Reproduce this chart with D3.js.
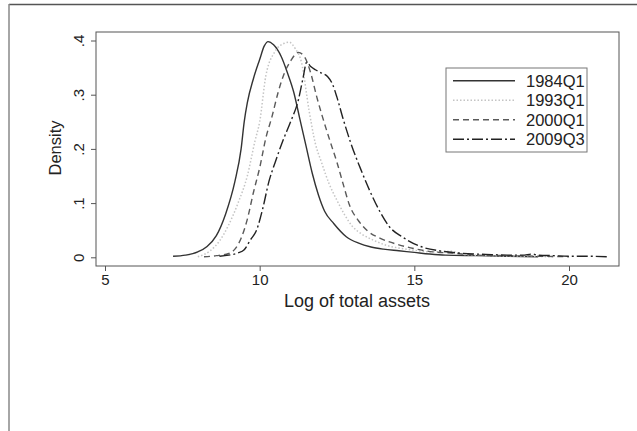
<!DOCTYPE html>
<html>
<head>
<meta charset="utf-8">
<script src="https://cdn.jsdelivr.net/npm/d3@7"></script>
<style>
  body { margin: 0; background: #fff; }
  svg { font-family: "Liberation Sans", Arial, sans-serif; }
</style>
</head>
<body>
<div class="vis"></div>
<script>
// density curves: [log of total assets, density]
const series = ["1984Q1", "1993Q1", "2000Q1", "2009Q3"];

const d1984 = [[7.2,0.002],[7.6,0.004],[8.0,0.01],[8.3,0.02],[8.6,0.04],[8.9,0.08],[9.2,0.14],[9.4,0.2],
  [9.5,0.25],[9.6,0.285],[9.8,0.33],[10.0,0.365],[10.15,0.39],[10.27,0.398],[10.45,0.392],[10.7,0.37],[10.9,0.34],
  [11.1,0.305],[11.3,0.255],[11.5,0.205],[11.7,0.155],[11.9,0.115],[12.1,0.085],[12.4,0.062],[12.8,0.038],
  [13.2,0.026],[13.6,0.019],[14.0,0.015],[14.5,0.012],[15.0,0.009],[15.5,0.006],[16.0,0.004],[17.0,0.003],
  [18.0,0.002],[19.0,0.001]];

const d1993 = [[8.0,0.001],[8.4,0.012],[8.7,0.03],[9.0,0.06],[9.3,0.1],[9.6,0.15],[9.85,0.215],[10.0,0.25],
  [10.2,0.335],[10.5,0.38],[10.8,0.395],[10.95,0.397],[11.15,0.385],[11.35,0.36],[11.6,0.27],[11.8,0.21],
  [12.0,0.175],[12.25,0.135],[12.5,0.105],[12.75,0.078],[13.0,0.057],[13.3,0.043],[13.7,0.031],[14.1,0.022],
  [14.5,0.017],[15.0,0.013],[15.5,0.01],[16.2,0.011],[16.6,0.005],[17.5,0.003],[18.5,0.002],[19.5,0.001]];

const d2000 = [[8.2,0.001],[8.6,0.003],[9.0,0.007],[9.2,0.015],[9.4,0.035],[9.6,0.07],[9.8,0.12],[10.0,0.165],
  [10.2,0.22],[10.4,0.26],[10.6,0.305],[10.8,0.34],[11.0,0.362],[11.25,0.378],[11.45,0.37],[11.65,0.34],
  [11.85,0.295],[12.0,0.265],[12.3,0.21],[12.5,0.175],[12.7,0.135],[12.9,0.097],[13.2,0.067],[13.5,0.048],
  [13.9,0.035],[14.5,0.023],[15.0,0.016],[15.6,0.01],[16.2,0.008],[17.0,0.004],[18.0,0.003],[19.0,0.002],
  [20.0,0.001]];

const d2009 = [[8.7,0.002],[9.0,0.004],[9.3,0.008],[9.5,0.014],[9.7,0.032],[9.9,0.05],[10.1,0.09],[10.3,0.14],
  [10.5,0.175],[10.75,0.215],[11.0,0.25],[11.25,0.29],[11.4,0.33],[11.52,0.36],[11.65,0.352],[11.8,0.346],
  [12.0,0.34],[12.2,0.333],[12.35,0.32],[12.5,0.295],[12.7,0.255],[12.95,0.21],[13.25,0.165],[13.55,0.124],
  [13.9,0.083],[14.2,0.056],[14.6,0.038],[15.2,0.02],[15.8,0.012],[16.4,0.008],[17.0,0.006],[17.5,0.005],
  [18.0,0.004],[18.5,0.004],[18.8,0.006],[19.0,0.004],[19.5,0.003],[20.0,0.002],[20.5,0.002],[21.3,0.001]];

const curves = [d1984, d1993, d2000, d2009];
const xTicks = [5, 10, 15, 20];
const yTicks = [0, 0.1, 0.2, 0.3, 0.4];
const yTickLabels = ["0", ".1", ".2", ".3", ".4"];

const styles = [
  { stroke: "#333", dash: null, w: 1.4 },
  { stroke: "#c4c4c4", dash: "1.5,2", w: 1.5 },
  { stroke: "#5a5a5a", dash: "6,4", w: 1.4 },
  { stroke: "#222", dash: "11,3,2,3", w: 1.4 }
];

const width = 637, height = 431;
const box = { left: 96, right: 619, top: 32, bottom: 266 };

const svg = d3.select(".vis").append("svg")
  .attr("width", width).attr("height", height);

// outer frame of the scanned page
svg.append("line").attr("x1", 9).attr("x2", 637).attr("y1", 4.5).attr("y2", 4.5)
  .attr("stroke", "#555").attr("stroke-width", 1.5);
svg.append("line").attr("x1", 9).attr("x2", 9).attr("y1", 4).attr("y2", 431)
  .attr("stroke", "#888").attr("stroke-width", 1.5);

const x = d3.scaleLinear().domain([5, 20]).range([105, 569]);
const y = d3.scaleLinear().domain([0, 0.4]).range([257.3, 40.5]);

svg.append("rect")
  .attr("x", box.left).attr("y", box.top)
  .attr("width", box.right - box.left).attr("height", box.bottom - box.top)
  .attr("fill", "none").attr("stroke", "#555").attr("stroke-width", 1);

const xAxis = svg.append("g")
  .attr("transform", "translate(0," + box.bottom + ")")
  .call(d3.axisBottom(x).tickValues(xTicks).tickSize(5).tickPadding(3).tickFormat(d3.format("d")));
xAxis.select(".domain").remove();
xAxis.selectAll("line").attr("stroke", "#555");
xAxis.selectAll("text").attr("font-size", 15).attr("fill", "#222")
  .attr("font-family", "Liberation Sans, Arial, sans-serif");

const yAxis = svg.append("g")
  .attr("transform", "translate(" + box.left + ",0)")
  .call(d3.axisLeft(y).tickValues(yTicks).tickSize(5).tickFormat((d, i) => yTickLabels[i]));
yAxis.select(".domain").remove();
yAxis.selectAll("line").attr("stroke", "#555");
yAxis.selectAll("text")
  .attr("font-size", 15).attr("fill", "#222")
  .attr("font-family", "Liberation Sans, Arial, sans-serif")
  .attr("x", null).attr("dy", null)
  .attr("text-anchor", "middle")
  .attr("transform", "translate(-18,0) rotate(-90)")
  .attr("dominant-baseline", "central");

svg.append("text")
  .attr("transform", "translate(55,148) rotate(-90)")
  .attr("text-anchor", "middle").attr("dominant-baseline", "central")
  .attr("font-size", 16.5).attr("fill", "#222")
  .text("Density");

svg.append("text")
  .attr("x", 357).attr("y", 301)
  .attr("text-anchor", "middle").attr("dominant-baseline", "central")
  .attr("font-size", 18).attr("fill", "#222")
  .text("Log of total assets");

const line = d3.line()
  .x((d) => x(d[0]))
  .y((d) => y(d[1]))
  .curve(d3.curveMonotoneX);

svg.append("g")
  .selectAll("path")
  .data(curves)
  .join("path")
  .attr("d", line)
  .attr("fill", "none")
  .attr("stroke", (d, i) => styles[i].stroke)
  .attr("stroke-width", (d, i) => styles[i].w)
  .attr("stroke-dasharray", (d, i) => styles[i].dash);

// legend
const lg = svg.append("g");
lg.append("rect")
  .attr("x", 446).attr("y", 68).attr("width", 141).attr("height", 84)
  .attr("fill", "#fff").attr("stroke", "#777").attr("stroke-width", 1);

const rowY = d3.scalePoint().domain(series).range([80.7, 139.3]);

lg.selectAll("line.key")
  .data(series)
  .join("line")
  .attr("class", "key")
  .attr("x1", 453).attr("x2", 515)
  .attr("y1", (d) => rowY(d)).attr("y2", (d) => rowY(d))
  .attr("stroke", (d, i) => styles[i].stroke)
  .attr("stroke-width", (d, i) => styles[i].w)
  .attr("stroke-dasharray", (d, i) => styles[i].dash);

lg.selectAll("text")
  .data(series)
  .join("text")
  .attr("x", 526)
  .attr("y", (d) => rowY(d))
  .attr("dominant-baseline", "central")
  .attr("font-size", 16.5).attr("fill", "#222")
  .text((d) => d);
</script>
</body>
</html>
